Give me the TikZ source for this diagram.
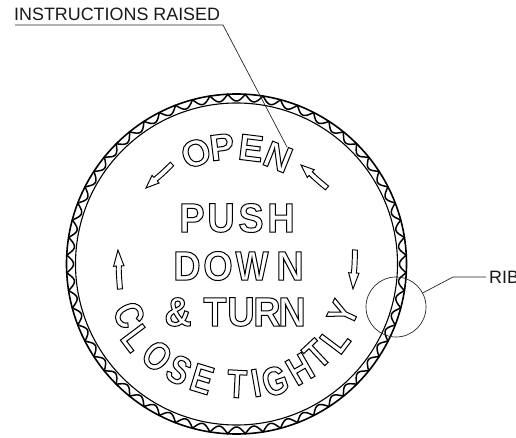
\documentclass[tikz,border=0pt]{standalone}
\usepackage{fontspec}
\setmainfont{Liberation Sans}
\newfontfamily\boldfam{Liberation Sans Bold}
\newfontfamily\midfont[FakeStretch=0.92]{Liberation Sans Bold}
\newfontfamily\wfont[FakeStretch=0.85]{Liberation Sans Bold}
\newfontfamily\ringfont[FakeStretch=0.8]{Liberation Sans Bold}
\newcommand{\outl}[1]{\special{pdf:code 1 Tr 1 w}#1\special{pdf:code 0 Tr}}
\tikzset{
  centerletter/.style={inner sep=0pt,font=\midfont\fontsize{41}{41}\selectfont},
  narrowletter/.style={inner sep=0pt,font=\wfont\fontsize{41}{41}\selectfont},
  openletter/.style={inner sep=0pt,font=\boldfam\fontsize{37}{37}\selectfont},
  ringletter/.style={inner sep=0pt,font=\ringfont\fontsize{40}{40}\selectfont},
  callout/.style={inner sep=0pt,font=\fontsize{17.9}{18}\selectfont,text=black!90},
  leader/.style={draw=black!85,line width=0.7pt},
  rim/.style={draw=black,line width=1.6pt},
  innerrim/.style={draw=black,line width=1.1pt},
  wave/.style={draw=black,line width=1.5pt},
  pics/turnarrow/.style args={#1/#2}{code={
    \draw[black,line width=0.95pt,line join=miter]
      (0,-2.5) .. controls (#1*0.3,-2.9) and (#1*0.5,-2.9) .. (#1-#2,-2.5) -- (#1-#2,-5.2) -- (#1,0)
      -- (#1-#2,5.2) -- (#1-#2,2.5) .. controls (#1*0.5,2.1) and (#1*0.3,2.1) .. (0,2.5) -- cycle;
  }}
}
\begin{document}
\begin{tikzpicture}[x=1pt,y=-1pt]
\useasboundingbox (0,0) rectangle (516,438);
% rim
\def\cx{236.5}\def\cy{264}
\draw[rim] (\cx,\cy) circle[radius=170];
\draw[innerrim] (\cx,\cy) circle[radius=161];
\draw[wave,line join=round] plot[domain=0:360,samples=1081,variable=\t]
  ({\cx+(170-7*abs(cos(30*(\t-90))))*cos(\t)},{\cy-(170-7*abs(cos(30*(\t-90))))*sin(\t)}) -- cycle;
% centre words
\foreach \c/\x/\y [count=\i] in {P/192/218,U/221/218,S/251/218,H/281/218,
    D/187/266,O/218/266,N/290/266,
    \&/178/312,T/215/312,U/241/312,R/267/312,N/292/312}
  \node[centerletter] (mid\i) at (\x,\y) {\outl{\c}};
\node[narrowletter] (midW) at (252,266) {\outl{W}};
% ring words
\foreach \c/\x/\y/\r [count=\i] in {O/196/153/20,P/222/147/7,E/251/148/-7,N/278/157/-22}
  \node[openletter,rotate=\r] (open\i) at (\x,\y) {\outl{\c}};
\foreach \c/\x/\y/\r [count=\i] in {
    C/129/315/-64,L/136/338/-53,O/157/356/-40,S/179/370/-28,E/202/379/-17,
    T/237/384/-3,I/256/383/10,G/275/381/19,H/300/369/30,T/317/354/43,L/335/340/53,Y/343/313/65}
  \node[ringletter,rotate=\r] (ring\i) at (\x,\y) {\outl{\c}};
% arrows
\pic[rotate=222.7] at (172,164) {turnarrow={35.4/13}};
\pic[rotate=138.5] at (327,188) {turnarrow={34.7/13}};
\pic[rotate=93] at (120,289) {turnarrow={39/16}};
\pic[rotate=267] at (355,250) {turnarrow={39/16}};
% callouts
\node[callout,anchor=base west] (instr) at (14,20.5) {INSTRUCTIONS RAISED};
\coordinate (instrleft) at (15,25);
\coordinate (instrelbow) at (223,25);
\coordinate (instrend) at (287,147);
\draw[leader] (instrleft) -- (instrelbow) -- (instrend);
\node[circle,draw=black!85,line width=0.7pt,minimum size=60pt,inner sep=0pt] (ribcircle) at (396,307) {};
\node[callout,anchor=base west] (rib) at (489,283) {RIB};
\coordinate (ribelbow) at (453,277);
\coordinate (ribend) at (486,277);
\draw[leader] (ribcircle) -- (ribelbow) -- (ribend);
\end{tikzpicture}
\end{document}
